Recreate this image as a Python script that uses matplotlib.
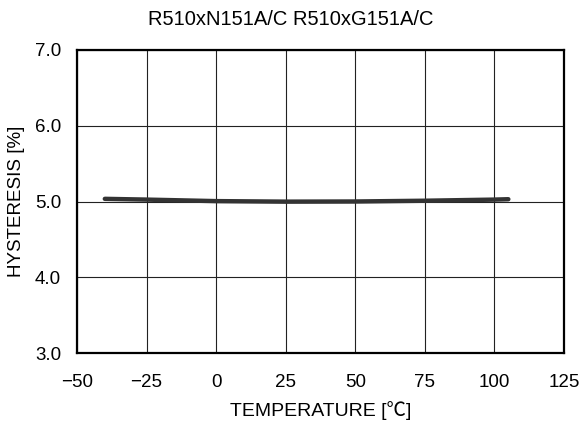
import matplotlib
matplotlib.use("Agg")
import matplotlib.pyplot as plt

# data
temperature = [-40, -25, 0, 25, 50, 75, 100, 105]
hysteresis = [5.035, 5.025, 5.005, 4.998, 5.0, 5.01, 5.025, 5.03]

x_ticks = [-50, -25, 0, 25, 50, 75, 100, 125]
y_ticks = [3.0, 4.0, 5.0, 6.0, 7.0]

plt.rcParams['font.family'] = ['Liberation Sans', 'Noto Sans CJK JP']

fig = plt.figure(figsize=(5.81, 4.28), dpi=100)
ax = fig.add_axes([77 / 581, 1 - 353 / 428, (564 - 77) / 581, (353 - 50) / 428])

ax.plot(temperature, hysteresis, color='#333333', linewidth=3.2, solid_capstyle='round')

ax.set_xlim(-50, 125)
ax.set_ylim(3.0, 7.0)
ax.set_xticks(x_ticks)
ax.set_xticklabels(['\u221250', '\u221225', '0', '25', '50', '75', '100', '125'])
ax.set_yticks(y_ticks)
ax.set_yticklabels(['%.1f' % v for v in y_ticks])
ax.grid(True, color='#222222', linewidth=0.8)
ax.tick_params(length=0, labelsize=13.5)
ax.tick_params(axis='x', pad=15)
ax.tick_params(axis='y', pad=11.5)
for s in ax.spines.values():
    s.set_linewidth(1.6)

ax.set_xlabel('TEMPERATURE [\u2103]', fontsize=14, labelpad=7)
ax.set_ylabel('HYSTERESIS [%]', fontsize=13.5, labelpad=7)
# title sits centred on the figure, not on the axes
fig.text(0.5, 1 - 25 / 428, 'R510xN151A/C R510xG151A/C', fontsize=14.5,
         ha='center', va='baseline')

fig.savefig('out.png', dpi=100)
